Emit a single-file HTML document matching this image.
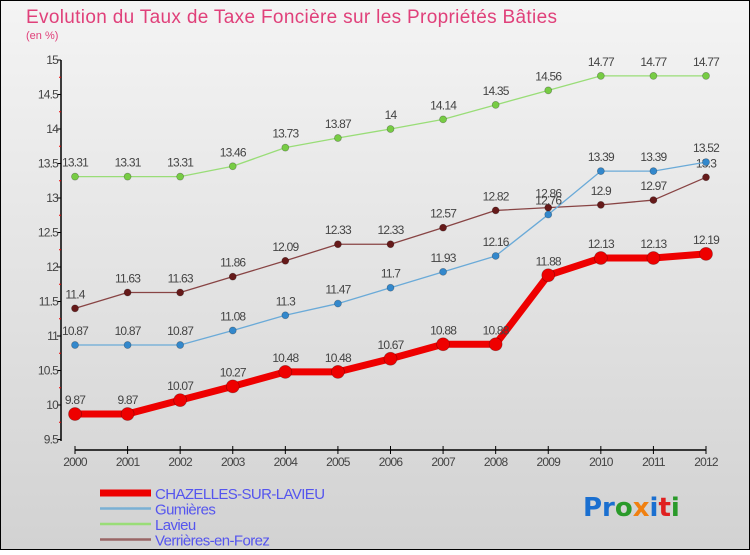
<!DOCTYPE html>
<html><head><meta charset="utf-8"><style>
html,body{margin:0;padding:0;}
body{width:750px;height:550px;overflow:hidden;font-family:"Liberation Sans",sans-serif;}
</style></head><body>
<svg width="750" height="550" viewBox="0 0 750 550" xmlns="http://www.w3.org/2000/svg">
<defs><linearGradient id="bg" x1="0" y1="0" x2="0" y2="1"><stop offset="0" stop-color="#f4f4f4"/><stop offset="1" stop-color="#d2d2d2"/></linearGradient></defs>
<rect x="0.5" y="0.5" width="749" height="549" fill="url(#bg)" stroke="#000" stroke-width="1"/>
<text x="26" y="23" font-size="19" fill="#e0407a" letter-spacing="0.33">Evolution du Taux de Taxe Foncière sur les Propriétés Bâties</text>
<text x="26" y="39" font-size="11" fill="#e0407a">(en %)</text>
<g id="axes"></g>
<g id="series"></g>
<g id="legend"></g>
<text x="583" y="516" font-size="26" font-weight="bold" font-family="DejaVu Sans, sans-serif"><tspan fill="#1a6fd0">Pr</tspan><tspan fill="#2a9a2a">o</tspan><tspan fill="#f08010">x</tspan><tspan fill="#1a6fd0">i</tspan><tspan fill="#e02020">t</tspan><tspan fill="#2a9a2a">i</tspan></text>
</svg>
<script>
const years = ["2000","2001","2002","2003","2004","2005","2006","2007","2008","2009","2010","2011","2012"];
const yTicks = [9.5,10,10.5,11,11.5,12,12.5,13,13.5,14,14.5,15];
const chazelles = [9.87,9.87,10.07,10.27,10.48,10.48,10.67,10.88,10.88,11.88,12.13,12.13,12.19];
const gumieres = [10.87,10.87,10.87,11.08,11.3,11.47,11.7,11.93,12.16,12.76,13.39,13.39,13.52];
const lavieu = [13.31,13.31,13.31,13.46,13.73,13.87,14,14.14,14.35,14.56,14.77,14.77,14.77];
const verrieres = [11.4,11.63,11.63,11.86,12.09,12.33,12.33,12.57,12.82,12.86,12.9,12.97,13.3];
const seriesNames = ["CHAZELLES-SUR-LAVIEU","Gumières","Lavieu","Verrières-en-Forez"];

const NS="http://www.w3.org/2000/svg";
const xS=i=>75+i*(631/12);
const yS=v=>405-(v-10)*69;
function mk(tag,attrs,parent){const e=document.createElementNS(NS,tag);for(const k in attrs)e.setAttribute(k,attrs[k]);parent.appendChild(e);return e;}
const axes=document.getElementById('axes');
let ya=mk('line',{x1:61,y1:60,x2:61,y2:441,stroke:'#000','stroke-width':1.5},axes);


yTicks.forEach(v=>{
  let t=mk('line',{x1:57,x2:61,y1:yS(v),y2:yS(v),stroke:'#000'},axes);
  
  
  if(v<15){let m=mk('line',{x1:59,x2:61,y1:yS(v+0.25),y2:yS(v+0.25),stroke:'#e00'},axes);
  
  }
  let l=mk('text',{x:58,y:yS(v)+4,'font-size':12,fill:'#444','text-anchor':'end','letter-spacing':'-0.8'},axes);
  
  
  l.textContent=String(v);
});
let xa=mk('line',{x1:75,y1:450,x2:706,y2:450,stroke:'#000','stroke-width':1.5},axes);


years.forEach((y,i)=>{
  let t=mk('line',{x1:xS(i),x2:xS(i),y1:446,y2:454,stroke:'#000'},axes);
  
  
  let l=mk('text',{x:xS(i),y:466,'font-size':12,fill:'#444','text-anchor':'middle','letter-spacing':'-0.8'},axes);
  
  
  l.textContent=y;
});
const sg=document.getElementById('series');
function drawSeries(vals,name,color,dot,w,r){
  const g=mk('g',{},sg);
  
  
  let p=mk('polyline',{points:vals.map((v,i)=>xS(i)+','+yS(v)).join(' '),fill:'none',stroke:color,'stroke-width':w,'stroke-linejoin':'round'},g);
  
  
  vals.forEach((v,i)=>{
    let c=mk('circle',{cx:xS(i),cy:yS(v),r:r,fill:dot,stroke:'rgba(0,0,0,0.3)','stroke-width':0.7},g);
    
    
    let t=mk('text',{x:xS(i),y:yS(v)-10,'font-size':12,fill:'#444','text-anchor':'middle','letter-spacing':'-0.8'},g);
    
    
    t.textContent=String(v);
  });
}
drawSeries(lavieu,'lavieu','#99dd77','#77cc44',1.3,3.5);
drawSeries(verrieres,'verrieres','#884444','#661a1a',1.3,3.5);
drawSeries(gumieres,'gumieres','#6aaad8','#3388cc',1.3,3.5);
drawSeries(chazelles,'chazelles','#ee0000','#ee0000',7,6.5);
const lg=document.getElementById('legend');
const lcol=['#ee0000','#7ab0d4','#99dd77','#996666'];
const lw=[7,2.5,2.5,2.5];
seriesNames.forEach((n,i)=>{
  const y=493+i*15.5;
  let e=mk('line',{x1:100,x2:151,y1:y,y2:y,stroke:lcol[i],'stroke-width':lw[i]},lg);
  
  
  let t=mk('text',{x:155,y:y+6,'font-size':15,fill:'#5555ee','letter-spacing':'-0.6'},lg);
  
  
  t.textContent=n;
});
</script>
</body></html>
